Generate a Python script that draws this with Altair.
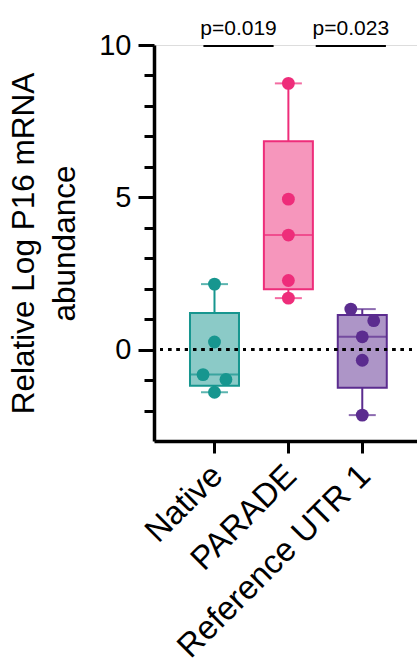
import altair as alt
import numpy as np
import pandas as pd

# ---- data ----
categories = ["Native", "PARADE", "Reference UTR 1"]
native = [2.15, 0.25, -0.82, -0.98, -1.40]
parade = [8.74, 4.94, 3.76, 2.27, 1.69]
reference = [1.33, 0.95, 0.42, -0.35, -2.15]
colors = ["#17968f", "#ee2d7a", "#5b2c8f"]

major_ticks = [0, 5, 10]
minor_ticks = [-2, -1, 1, 2, 3, 4, 6, 7, 8, 9]

p_labels = ["p=0.019", "p=0.023"]
# bracket spans in category-axis units
bracket_start = [0.85, 2.37]
bracket_end = [1.80, 3.32]

FONT = "Liberation Sans"
groups = [native, parade, reference]

# ---- build tables ----
rows = []
box_rows = []
for gi, (cat, vals) in enumerate(zip(categories, groups)):
    idx = gi + 1
    q1, med, q3 = np.percentile(vals, [25, 50, 75], method="weibull")
    box_rows.append(dict(group=cat, idx=idx, q1=q1, med=med, q3=q3,
                         lo=min(vals), hi=max(vals)))
    # simple beeswarm: spread overlapping neighbours (pairs only)
    order = sorted(vals, reverse=True)
    offs = [0.0] * len(order)
    for i in range(len(order) - 1):
        if order[i] - order[i + 1] < 0.4 and offs[i] == 0 and offs[i + 1] == 0:
            offs[i] = -0.155
            offs[i + 1] = 0.155
    for i, v in enumerate(order):
        rows.append(dict(group=cat, x=idx + offs[i], value=v))

pts = pd.DataFrame(rows)
box = pd.DataFrame(box_rows)
ann = pd.DataFrame(dict(label=p_labels, x1=bracket_start, x2=bracket_end))
ann["xm"] = (ann.x1 + ann.x2) / 2
ann["yb"] = 9.97
ann["yt"] = 10.33

xscale = alt.Scale(domain=[0.249, 3.673], nice=False, zero=False)
yscale = alt.Scale(domain=[-3, 10], nice=False, zero=False)
cscale = alt.Scale(domain=categories, range=colors)

label_expr = "datum.value == 1 ? 'Native' : datum.value == 2 ? 'PARADE' : 'Reference UTR 1'"

xaxis = alt.Axis(values=[1, 2, 3], labelExpr=label_expr, labelAngle=-45,
                 labelAlign="right", labelBaseline="top", labelOffset=-9,
                 labelFontSize=33, labelFont=FONT, labelColor="black",
                 labelLimit=0, labelOverlap=False,
                 tickSize=12, tickWidth=3, tickColor="black",
                 domainWidth=3.5, domainColor="black", grid=False, title=None,
                 labelPadding=6)
yaxis = alt.Axis(values=major_ticks, orient="left",
                 labelOverlap=False, tickSize=16,
                 tickWidth=3, tickColor="black", domainWidth=3.5, domainColor="black",
                 labelFontSize=29, labelFont=FONT, labelColor="black", labelPadding=7,
                 grid=False,
                 title=["Relative Log P16 mRNA", "abundance"],
                 titleFontSize=31.5, titleFont=FONT, titleFontWeight="normal",
                 titleColor="black", titleLineHeight=41, titlePadding=17)
yaxis_minor = alt.Axis(values=minor_ticks, orient="left", labels=False, domain=False,
                       tickSize=10, tickWidth=3, tickColor="black", grid=False, title=None)

x_enc = alt.X("idx:Q", scale=xscale, axis=xaxis)

boxes = alt.Chart(box).mark_bar(size=49, strokeWidth=2, fillOpacity=0.5).encode(
    x=x_enc,
    y=alt.Y("q1:Q", scale=yscale, axis=yaxis),
    y2="q3:Q",
    fill=alt.Fill("group:N", scale=cscale, legend=None),
    stroke=alt.Stroke("group:N", scale=cscale, legend=None),
)
medians = alt.Chart(box).mark_tick(orient="horizontal", size=49, thickness=2).encode(
    x="idx:Q", y="med:Q", color=alt.Color("group:N", scale=cscale, legend=None))
whisk_hi = alt.Chart(box).mark_rule(strokeWidth=2).encode(
    x="idx:Q", y="q3:Q", y2="hi:Q", color=alt.Color("group:N", scale=cscale, legend=None))
whisk_lo = alt.Chart(box).mark_rule(strokeWidth=2).encode(
    x="idx:Q", y="lo:Q", y2="q1:Q", color=alt.Color("group:N", scale=cscale, legend=None))
cap_hi = alt.Chart(box).mark_tick(orient="horizontal", size=27, thickness=2).encode(
    x="idx:Q", y="hi:Q", color=alt.Color("group:N", scale=cscale, legend=None))
cap_lo = alt.Chart(box).mark_tick(orient="horizontal", size=27, thickness=2).encode(
    x="idx:Q", y="lo:Q", color=alt.Color("group:N", scale=cscale, legend=None))

zero_line = alt.Chart(box).mark_rule(strokeDash=[3, 5.3], strokeWidth=3, color="black").encode(
    y=alt.Y("zero:Q", scale=yscale, axis=yaxis_minor), x=alt.value(6), x2=alt.value(263)
).transform_calculate(zero="0")

points = alt.Chart(pts).mark_circle(size=165, opacity=1).encode(
    x="x:Q", y="value:Q", color=alt.Color("group:N", scale=cscale, legend=None))

brackets = alt.Chart(ann).mark_rule(strokeWidth=2, color="black").encode(
    x="x1:Q", x2="x2:Q", y="yb:Q")
ptext = alt.Chart(ann).mark_text(fontSize=21, font=FONT, color="black", baseline="alphabetic").encode(
    x="xm:Q", y="yt:Q", text="label:N")

main = alt.layer(boxes, whisk_hi, whisk_lo, cap_hi, cap_lo, medians,
                 points, brackets, ptext)

chart = alt.layer(main, zero_line).resolve_axis(y="independent").properties(
    width=263, height=396,
    autosize=alt.AutoSizeParams(type="none"),
    padding={"left": 154, "top": 45, "right": 0, "bottom": 222},
).configure_view(stroke=None).configure(background="white")

chart.save("out.html", embed_options={"renderer": "svg", "actions": False})
